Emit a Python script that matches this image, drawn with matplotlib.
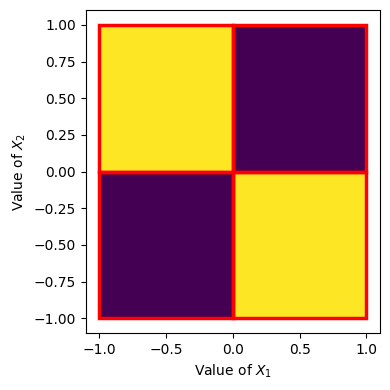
import numpy as np
import matplotlib.pyplot as plt

# quadrant edges of the two inputs and the class of each quadrant
x1Edges = [-1.0, 0.0, 1.0]
x2Edges = [-1.0, 0.0, 1.0]
# rows: x2 low -> high, cols: x1 low -> high (XOR: yellow when signs differ)
quadClass = [[0, 1],
             [1, 0]]

fig, ax = plt.subplots(figsize=(3.9, 3.9), dpi=100)
fig.subplots_adjust(left=0.22, right=0.974, top=0.974, bottom=0.146)

ax.pcolormesh(x1Edges, x2Edges, np.array(quadClass), cmap="viridis",
              vmin=0, vmax=1, zorder=1)

# red outline around every quadrant
for i in range(len(x1Edges) - 1):
    for j in range(len(x2Edges) - 1):
        ax.add_patch(plt.Rectangle((x1Edges[i], x2Edges[j]),
                                   x1Edges[i+1] - x1Edges[i],
                                   x2Edges[j+1] - x2Edges[j],
                                   fill=False, edgecolor="red", linewidth=2.5, zorder=3))

ax.set_xlim(-1.1, 1.1)
ax.set_ylim(-1.1, 1.1)
ax.set_xticks([-1.0, -0.5, 0.0, 0.5, 1.0])
ax.set_yticks(np.arange(-1.0, 1.01, 0.25))
ax.set_xlabel("Value of $X_1$")
ax.set_ylabel("Value of $X_2$")

plt.savefig("out.png")
